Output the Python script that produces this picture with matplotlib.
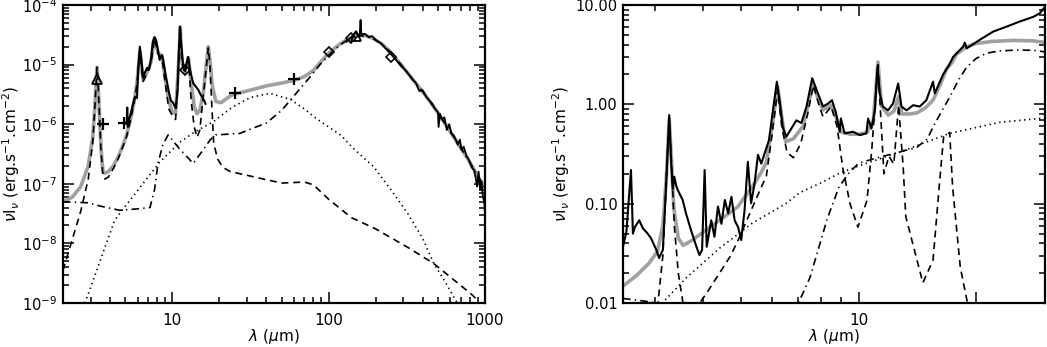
import numpy as np
import matplotlib
matplotlib.use('Agg')
import matplotlib.pyplot as plt
from matplotlib.ticker import LogLocator, FixedLocator, FixedFormatter, NullFormatter, LogFormatterMathtext

plt.rcParams['font.family'] = 'DejaVu Sans'
plt.rcParams['font.size'] = 11
plt.rcParams['mathtext.fontset'] = 'dejavusans'
plt.rcParams['lines.scale_dashes'] = False

# ---------------- left panel: full SED ----------------
obs_ir_wl = [5.1, 5.15, 5.2, 5.3, 5.5, 5.7, 5.8, 5.95, 6.05, 6.2, 6.35, 6.5, 6.7, 6.9, 7.1, 7.3, 7.5,
             7.7, 7.9, 8.1, 8.3, 8.45, 8.6, 8.8, 9.0, 9.2, 9.5, 9.8, 10.1, 10.5, 10.8, 11.0, 11.2,
             11.4, 11.7, 12.0, 12.3, 12.6, 12.9, 13.2, 13.6, 14.2, 14.7, 15.1, 15.5, 16.0, 16.3]
obs_ir_flux = [1.0e-6, 1.9e-6, 0.9e-6, 1.2e-6, 1.75e-6, 2.6e-6, 2.9e-6, 2.75e-6, 8e-6, 2.0e-5, 1.2e-5,
               6.0e-6, 7.5e-6, 8.8e-6, 8.2e-6, 1.2e-5, 2.4e-5, 2.9e-5, 2.5e-5, 1.75e-5, 1.2e-5, 1.35e-5,
               1.45e-5, 1.1e-5, 7.5e-6, 5.5e-6, 3.5e-6, 2.5e-6, 2.3e-6, 1.86e-6, 3.5e-6, 1.5e-5, 4.3e-5,
               2.2e-5, 1.06e-5, 8e-6, 1.0e-5, 1.35e-5, 9e-6, 6.7e-6, 4.9e-6, 4.2e-6, 3.75e-6, 3.2e-6,
               2.9e-6, 2.5e-6, 2.2e-6]

obs_fir_wl = [130, 135, 140, 145, 150, 155, 158, 160, 162, 170, 180, 190, 200, 215, 230, 250, 270, 290,
              310, 330, 345, 360, 380, 400, 420, 440, 460, 480, 500, 505, 515, 530, 550, 570, 590, 610,
              630, 650, 670, 690, 710, 730, 760, 790, 820, 850, 870, 890, 910, 930, 950, 970, 990, 1000]
obs_fir_flux = [2.4e-5, 2.7e-5, 2.9e-5, 3.3e-5, 3.5e-5, 3.0e-5, 3.3e-5, 5.6e-5, 3.2e-5, 3.3e-5, 2.9e-5,
                3.0e-5, 2.6e-5, 2.3e-5, 1.9e-5, 1.5e-5, 1.2e-5, 9.5e-6, 8.0e-6, 6.5e-6, 5.5e-6, 5.0e-6,
                3.6e-6, 3.7e-6, 2.9e-6, 2.5e-6, 2.2e-6, 1.8e-6, 1.6e-6, 9e-7, 1.5e-6, 1.2e-6, 1.3e-6,
                8e-7, 1.0e-6, 7e-7, 6.5e-7, 5.5e-7, 4.5e-7, 5.5e-7, 3.7e-7, 4.2e-7, 3.0e-7, 2.5e-7,
                1.9e-7, 1.7e-7, 1.3e-7, 9e-8, 1.6e-7, 8e-8, 1.1e-7, 6e-8, 5e-8, 3e-8]

model_wl = [2.0, 2.3, 2.6, 2.9, 3.1, 3.2, 3.27, 3.3, 3.35, 3.42, 3.5, 3.6, 3.7, 3.9, 4.2, 4.5, 4.8, 5.1,
            5.4, 5.7, 5.95, 6.2, 6.5, 6.9, 7.3, 7.7, 8.1, 8.6, 9.0, 9.5, 10.0, 10.5, 11.0, 11.25, 11.5,
            12.0, 12.7, 13.2, 13.8, 14.4, 15.0, 15.8, 16.5, 17.0, 17.4, 18.0, 19.0, 20.5, 24, 30, 40,
            50, 60, 70, 80, 90, 100, 115, 130, 150, 170, 190, 220, 250, 300, 350, 400, 450, 500, 600,
            700, 800, 900, 1000]
model_flux = [5e-8, 6e-8, 9e-8, 2e-7, 6e-7, 2e-6, 6e-6, 9e-6, 5e-6, 1.5e-6, 4e-7, 1.6e-7, 1.5e-7,
              1.6e-7, 2e-7, 2.8e-7, 4.2e-7, 6.5e-7, 1.2e-6, 2.4e-6, 5e-6, 1.7e-5, 5.5e-6, 7.5e-6,
              1.1e-5, 2.8e-5, 1.6e-5, 1.35e-5, 6e-6, 2.5e-6, 1.6e-6, 1.5e-6, 1.2e-5, 4.3e-5, 1.2e-5,
              7.5e-6, 1.3e-5, 5e-6, 2e-6, 1.5e-6, 1.7e-6, 3.5e-6, 1e-5, 2e-5, 1.2e-5, 4.5e-6, 2.4e-6,
              2.3e-6, 3.1e-6, 3.6e-6, 4.4e-6, 4.9e-6, 5.4e-6, 6.3e-6, 8.0e-6, 1.15e-5, 1.55e-5, 2.1e-5,
              2.6e-5, 3.0e-5, 3.1e-5, 2.8e-5, 2.2e-5, 1.6e-5, 9e-6, 5.4e-6, 3.5e-6, 2.3e-6, 1.55e-6,
              7.5e-7, 4.0e-7, 2.3e-7, 1.35e-7, 8.5e-8]

pah_wl = [2.0, 2.3, 2.6, 2.9, 3.1, 3.2, 3.27, 3.3, 3.35, 3.42, 3.5, 3.6, 3.7, 3.9, 4.2, 4.5, 4.8, 5.1,
          5.4, 5.7, 5.95, 6.2, 6.5, 6.9, 7.3, 7.7, 8.1, 8.6, 9.0, 9.5, 10.0, 10.5, 11.0, 11.25, 11.5,
          12.0, 12.7, 13.2, 13.8, 14.4, 15.0, 15.8, 16.5, 17.0, 17.4, 18.0, 18.4, 19.5, 21, 23.5, 28,
          40, 50, 60, 70, 80, 100, 140, 200, 320, 470, 820, 870]
pah_flux = [3.5e-9, 1.2e-8, 3.5e-8, 1.2e-7, 5e-7, 2e-6, 6e-6, 9e-6, 5e-6, 1.5e-6, 3.5e-7, 1.4e-7, 1.2e-7,
            1.3e-7, 1.8e-7, 2.6e-7, 4e-7, 6.2e-7, 1.15e-6, 2.3e-6, 4.8e-6, 1.65e-5, 5.2e-6, 7.2e-6,
            1.05e-5, 2.75e-5, 1.5e-5, 1.3e-5, 5e-6, 1.8e-6, 1.4e-6, 1.2e-6, 1.1e-5, 4.2e-5, 1.1e-5, 7e-6,
            1.25e-5, 2.5e-6, 9e-7, 6e-7, 8e-7, 3e-6, 9e-6, 1.9e-5, 1e-5, 1.5e-6, 4.8e-7, 2.6e-7, 1.9e-7,
            1.6e-7, 1.45e-7, 1.17e-7, 1.03e-7, 1.05e-7, 1.07e-7, 9.6e-8, 5.5e-8, 2.7e-8, 1.75e-8,
            8.6e-9, 4.6e-9, 1.4e-9, 1.2e-9]

warm_wl = [2.76, 3.0, 3.5, 4.0, 4.3, 5.0, 6.0, 7.0, 8.3, 11.2, 14, 18.3, 24, 31.5, 42, 57, 70, 85, 100,
           120, 140, 195, 250, 320, 400, 470, 560, 650, 700]
warm_flux = [1e-9, 1.8e-9, 5.6e-9, 1.5e-8, 2.5e-8, 4.2e-8, 7.7e-8, 1.3e-7, 2.3e-7, 5e-7, 7.5e-7, 1.1e-6,
             1.9e-6, 2.8e-6, 3.3e-6, 2.6e-6, 1.8e-6, 1.2e-6, 9e-7, 6.5e-7, 4.2e-7, 1.9e-7, 8e-8, 3.2e-8,
             1.2e-8, 4.6e-9, 2.2e-9, 1.1e-9, 8e-10]

cold_wl = [2.0, 2.9, 3.5, 4.6, 6.0, 7.2, 7.7, 8.1, 8.7, 9.4, 11, 13.6, 15.5, 17.5, 18.9, 27, 40, 50, 57,
           66, 76, 88, 103, 120, 138, 160, 190, 220, 250, 300, 350, 400, 500, 600, 700, 800, 900, 1000]
cold_flux = [5e-8, 4.8e-8, 4.2e-8, 3.6e-8, 3.8e-8, 4e-8, 8e-8, 2.2e-7, 4.5e-7, 6.6e-7, 4e-7, 2.2e-7,
             3.5e-7, 5.5e-7, 6.6e-7, 7e-7, 1.05e-6, 1.7e-6, 2.55e-6, 4e-6, 6.2e-6, 1e-5, 1.55e-5, 2.2e-5,
             2.8e-5, 3.05e-5, 2.8e-5, 2.2e-5, 1.6e-5, 9e-6, 5.4e-6, 3.5e-6, 1.55e-6, 7.5e-7, 4e-7,
             2.3e-7, 1.35e-7, 8.5e-8]

plus_wl = [3.6, 4.9, 25, 60]
plus_flux = [1.0e-6, 1.05e-6, 3.3e-6, 5.7e-6]
diam_wl = [12, 100, 140, 250]
diam_flux = [8e-6, 1.6e-5, 2.8e-5, 1.35e-5]
tri_wl = [3.3, 150]
tri_flux = [5.7e-6, 3.0e-5]

# ---------------- right panel: near/mid-IR zoom ----------------
spec_wl = [2.49, 2.54, 2.61, 2.64, 2.67, 2.74, 2.80, 2.88, 2.94, 3.03, 3.08, 3.15, 3.21, 3.27, 3.31,
           3.34, 3.37, 3.41, 3.44, 3.54, 3.61, 3.73, 3.84, 3.91, 3.97, 4.03, 4.08, 4.19, 4.27, 4.36,
           4.45, 4.54, 4.63, 4.72, 4.81, 4.91, 5.00, 5.10, 5.20, 5.30, 5.41, 5.52, 5.63, 5.74, 5.89,
           6.03, 6.17, 6.27, 6.39, 6.52, 6.72, 6.92, 7.13, 7.35, 7.6, 7.86, 8.10, 8.35, 8.54, 8.73,
           8.94, 9.0, 9.20, 9.67, 10.06, 10.46, 10.57, 10.78, 11.0, 11.17, 11.32, 11.53, 11.89, 12.24,
           12.62, 12.87, 13.26, 13.78, 14.33, 14.90, 15.50, 15.66, 16.45, 16.96, 17.45, 18.5, 18.7,
           18.9, 20.4, 22.1, 23.9, 25.8, 28.0, 29.1, 30.0]
spec_flux = [0.037, 0.052, 0.218, 0.05, 0.058, 0.068, 0.0565, 0.050, 0.0446, 0.0343, 0.0284, 0.0343,
             0.15, 0.78, 0.25, 0.14, 0.187, 0.15, 0.137, 0.109, 0.080, 0.052, 0.0368, 0.0304, 0.0343,
             0.218, 0.0368, 0.068, 0.0464, 0.0935, 0.0627, 0.109, 0.080, 0.117, 0.068, 0.058, 0.043,
             0.086, 0.264, 0.101, 0.16, 0.31, 0.253, 0.32, 0.436, 0.874, 1.69, 1.1, 0.59, 0.47, 0.57,
             0.69, 0.65, 0.95, 1.83, 1.29, 0.95, 1.02, 1.1, 0.84, 0.53, 0.72, 0.51, 0.53, 0.49, 0.51,
             0.72, 0.57, 0.87, 2.39, 1.29, 0.95, 0.87, 1.02, 1.62, 0.95, 0.87, 0.98, 0.95, 1.1, 1.69,
             1.29, 2.0, 2.4, 3.0, 3.8, 4.17, 3.66, 4.45, 5.4, 6.05, 6.8, 7.6, 8.25, 9.6]

fit_wl = [2.49, 2.7, 2.9, 3.05, 3.15, 3.22, 3.27, 3.31, 3.36, 3.45, 3.55, 3.75, 4.0, 4.4, 4.9, 5.35,
          5.6, 5.8, 6.0, 6.2, 6.35, 6.5, 6.8, 7.2, 7.4, 7.65, 7.9, 8.1, 8.5, 8.75, 9.0, 9.5, 10.0,
          10.5, 10.9, 11.2, 11.45, 11.9, 12.3, 12.65, 12.9, 13.5, 14.1, 14.8, 15.5, 16.2, 16.8, 17.3,
          17.8, 18.9, 20.0, 22, 25, 28, 30]
fit_flux = [0.0148, 0.019, 0.025, 0.033, 0.06, 0.2, 0.72, 0.3, 0.09, 0.045, 0.038, 0.043, 0.052,
            0.068, 0.093, 0.15, 0.2, 0.26, 0.6, 1.5, 0.75, 0.42, 0.45, 0.6, 0.95, 1.6, 1.1, 0.88,
            0.98, 0.75, 0.53, 0.5, 0.5, 0.52, 0.69, 2.67, 0.95, 0.78, 0.85, 1.2, 0.8, 0.8, 0.82, 0.92,
            1.1, 1.6, 2.3, 2.6, 3.2, 3.8, 4.1, 4.3, 4.4, 4.35, 4.2]

pah2_wl = [2.9, 3.06, 3.15, 3.22, 3.27, 3.31, 3.37, 3.45, 3.55, 3.7, 3.9, 4.1, 4.4, 4.7, 4.95, 5.35,
           5.6, 5.8, 6.0, 6.2, 6.35, 6.55, 6.8, 7.1, 7.4, 7.65, 7.9, 8.1, 8.5, 8.8, 9.1, 9.5, 9.95,
           10.5, 10.8, 11.2, 11.6, 11.95, 12.3, 12.65, 13.0, 13.2, 14.1, 14.6, 15.5, 16.1, 16.5, 17.1,
           17.4, 18.2, 18.9, 19.5]
pah2_flux = [0.004, 0.01, 0.03, 0.2, 0.7, 0.28, 0.06, 0.02, 0.0098, 0.005, 0.0098, 0.013, 0.02, 0.03,
             0.046, 0.093, 0.14, 0.19, 0.5, 1.4, 0.6, 0.33, 0.29, 0.4, 0.8, 1.55, 1.0, 0.75, 0.95, 0.6,
             0.23, 0.1, 0.058, 0.108, 0.35, 2.5, 0.2, 0.3, 0.25, 0.98, 0.23, 0.074, 0.027, 0.016, 0.027,
             0.16, 0.47, 0.52, 0.146, 0.023, 0.011, 0.006]

hot_wl = [2.49, 2.7, 2.95, 3.1, 3.3, 6.7, 7.0, 7.2, 7.5, 7.9, 8.3, 8.9, 9.4, 10.0, 11.3, 12.7, 14.1,
          15.0, 15.5, 16.3, 17.1, 18.0, 18.9, 20.0, 21.3, 23, 25.4, 28, 30]
hot_flux = [0.0111, 0.0107, 0.0102, 0.0099, 0.005, 0.005, 0.0100, 0.0126, 0.018, 0.036, 0.07, 0.147,
            0.2, 0.256, 0.294, 0.33, 0.37, 0.45, 0.59, 0.85, 1.18, 1.75, 2.37, 2.9, 3.28, 3.45, 3.52,
            3.5, 3.37]

cont_wl = [2.9, 3.14, 3.62, 4.4, 5.35, 6.5, 7.06, 7.95, 8.94, 10.0, 12.7, 17.1, 23, 30]
cont_flux = [0.006, 0.01, 0.018, 0.0356, 0.064, 0.1, 0.129, 0.16, 0.203, 0.24, 0.33, 0.51, 0.66, 0.73]

grey = '#a0a0a0'
dashed = (0, (5, 3.5))
dotted = (0, (1, 2.6))
dashdot = (0, (5.5, 3, 1, 3))

fig = plt.figure(figsize=(10.47, 3.47), dpi=100)
ax1 = fig.add_axes([63/1047., 44/347., 422/1047., 298/347.])
ax2 = fig.add_axes([623/1047., 44/347., 422/1047., 298/347.])

ax1.plot(model_wl, model_flux, color=grey, lw=2.6, zorder=2)
ax1.plot(pah_wl, pah_flux, color='k', lw=1.2, ls=dashed, zorder=3)
ax1.plot(warm_wl, warm_flux, color='k', lw=1.2, ls=dotted, zorder=3)
ax1.plot(cold_wl, cold_flux, color='k', lw=1.2, ls=dashdot, zorder=3)
ax1.plot(obs_ir_wl, obs_ir_flux, color='k', lw=1.5, zorder=4)
ax1.plot(obs_fir_wl, obs_fir_flux, color='k', lw=1.3, zorder=4)
ax1.plot(plus_wl, plus_flux, '+', color='k', ms=8, mew=1.6, zorder=5)
ax1.plot(diam_wl, diam_flux, 'D', mfc='none', mec='k', ms=5, mew=1.2, zorder=5)
ax1.plot(tri_wl, tri_flux, '^', mfc='none', mec='k', ms=7, mew=1.3, zorder=5)
ax1.set_xlim(2, 1000)
ax1.set_ylim(1e-9, 1e-4)

ax2.plot(fit_wl, fit_flux, color=grey, lw=2.6, zorder=2)
ax2.plot(pah2_wl, pah2_flux, color='k', lw=1.2, ls=dashed, zorder=3)
ax2.plot(cont_wl, cont_flux, color='k', lw=1.2, ls=dotted, zorder=3)
ax2.plot(hot_wl, hot_flux, color='k', lw=1.2, ls=dashdot, zorder=3)
ax2.plot(spec_wl, spec_flux, color='k', lw=1.5, zorder=4)
ax2.set_xlim(2.49, 30)
ax2.set_ylim(0.01, 10)

for ax in (ax1, ax2):
    ax.set_xscale('log')
    ax.set_yscale('log')
    for s in ax.spines.values():
        s.set_linewidth(1.6)
    ax.tick_params(which='both', direction='in', top=True, right=True, width=1.1)
    ax.tick_params(which='major', length=8, pad=7)
    ax.tick_params(which='minor', length=4)
    ax.tick_params(axis='y', which='major', pad=4, labelsize=10.5)
    ax.set_xlabel(r'$\lambda$ ($\mu$m)')
    ax.set_ylabel(r'$\nu$I$_\nu$ (erg.s$^{-1}$.cm$^{-2}$)')
    ax.xaxis.set_label_coords(0.5, -0.08)

ax1.xaxis.set_major_locator(FixedLocator([10, 100, 1000]))
ax1.xaxis.set_major_formatter(FixedFormatter(['10', '100', '1000']))
ax1.xaxis.set_minor_locator(LogLocator(base=10, subs=np.arange(2, 10)))
ax1.xaxis.set_minor_formatter(NullFormatter())
ax1.yaxis.set_major_locator(LogLocator(base=10))
ax1.yaxis.set_major_formatter(LogFormatterMathtext())
ax1.yaxis.set_minor_locator(LogLocator(base=10, subs=np.arange(2, 10)))
ax1.yaxis.set_minor_formatter(NullFormatter())
ax1.yaxis.set_label_coords(-0.098, 0.5)

ax2.xaxis.set_major_locator(FixedLocator([10, 20]))
ax2.xaxis.set_major_formatter(FixedFormatter(['10', '']))
ax2.xaxis.set_minor_locator(FixedLocator([3, 4, 5, 6, 7, 8, 9]))
ax2.xaxis.set_minor_formatter(NullFormatter())
ax2.yaxis.set_major_locator(FixedLocator([0.01, 0.1, 1, 10]))
ax2.yaxis.set_major_formatter(FixedFormatter(['0.01', '0.10', '1.00', '10.00']))
ax2.yaxis.set_minor_locator(LogLocator(base=10, subs=np.arange(2, 10)))
ax2.yaxis.set_minor_formatter(NullFormatter())
ax2.yaxis.set_label_coords(-0.12, 0.5)

fig.savefig('out.png', dpi=100)
